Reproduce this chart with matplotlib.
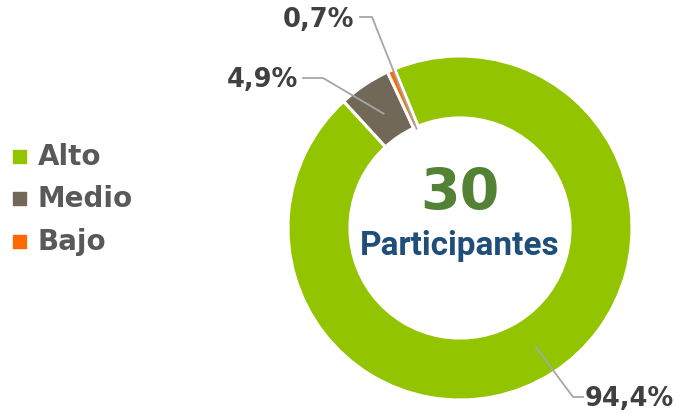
import numpy as np
import matplotlib
matplotlib.use("Agg")
import matplotlib.pyplot as plt
from matplotlib.patches import Rectangle

categorias = ["Alto", "Medio", "Bajo"]
porcentajes = [94.4, 4.9, 0.7]
etiquetas = ["94,4%", "4,9%", "0,7%"]
colores = ["#92C400", "#716858", "#FF6A00"]
total_participantes = 30

W, H = 676, 414
fig = plt.figure(figsize=(W / 100, H / 100), dpi=100)


def px(x, y):
    # pixel coords (origin top-left) -> figure fraction
    return x / W, 1 - y / H


cx, cy, R = 460, 229, 172
ax = fig.add_axes([(cx - R) / W, (H - cy - R) / H, 2 * R / W, 2 * R / H])
start = 112.4
wedges, _ = ax.pie(porcentajes, colors=colores, startangle=start, counterclock=False,
                   radius=1.0, wedgeprops=dict(width=0.36, edgecolor="white", linewidth=2.2))
ax.set_xlim(-1, 1)
ax.set_ylim(-1, 1)
ax.axis("off")

# texto central
ax.text(0, 0.2, str(total_participantes), ha="center", va="center", fontsize=41,
        fontweight="bold", color="#548235", family="DejaVu Sans")
ax.text(0, -0.1, "Participantes", ha="center", va="center", fontsize=24,
        fontweight="bold", color="#1F4E79", family=["Roboto", "DejaVu Sans"])

# etiquetas con lineas guia
gris = "#A6A6A6"
radios = [0.82, 0.80, 0.63]
codos = [[(573, 398), (583, 398)], [(323, 79), (303, 79)], [(372, 18), (360, 18)]]
textos_pos = [(629, 399), (262, 80), (319, 20)]
for w, r, codo, tp, lab in zip(wedges, radios, codos, textos_pos, etiquetas):
    ang = np.deg2rad((w.theta1 + w.theta2) / 2)
    x0, y0 = cx + r * R * np.cos(ang), cy - r * R * np.sin(ang)
    pts = [(x0, y0)] + codo
    xs = [px(*p)[0] for p in pts]
    ys = [px(*p)[1] for p in pts]
    fig.add_artist(plt.Line2D(xs, ys, color=gris, linewidth=1.3, transform=fig.transFigure))
    fx, fy = px(*tp)
    fig.text(fx, fy, lab, ha="center", va="center", fontsize=18.5, fontweight="bold",
             color="#404040")

# leyenda
ley_y = [157, 199, 242]
for cat, col, y in zip(categorias, colores, ley_y):
    fx, fy = px(13, y + 7)
    fig.add_artist(Rectangle((fx, fy), 13 / W, 13 / H, color=col, transform=fig.transFigure))
    tx, ty = px(38, y)
    fig.text(tx, ty, cat, ha="left", va="center", fontsize=20, fontweight="bold",
             color="#595959")

fig.savefig("out.png", dpi=100)
